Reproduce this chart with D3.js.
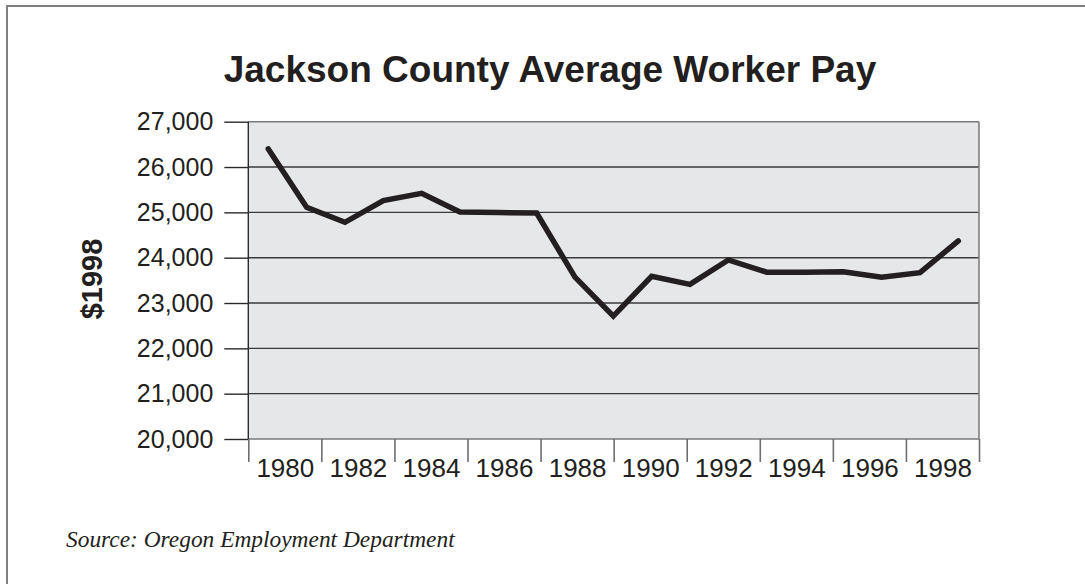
<!DOCTYPE html>
<html>
<head>
<meta charset="utf-8">
<script src="https://cdn.jsdelivr.net/npm/d3@7"></script>
<style>
  html, body { margin: 0; padding: 0; background: #fff; }
  svg { display: block; }
</style>
</head>
<body>
<svg id="chart" width="1085" height="584"></svg>
<script>
// Average annual pay, constant 1998 dollars
const years = [1980, 1981, 1982, 1983, 1984, 1985, 1986, 1987, 1988, 1989,
               1990, 1991, 1992, 1993, 1994, 1995, 1996, 1997, 1998];
const pay = [26400, 25110, 24780, 25260, 25420, 25010, 24995, 24985, 23570, 22710,
             23590, 23410, 23950, 23680, 23680, 23690, 23570, 23670, 24370];

const yTicks = [20000, 21000, 22000, 23000, 24000, 25000, 26000, 27000];
const xLabels = [1980, 1982, 1984, 1986, 1988, 1990, 1992, 1994, 1996, 1998];
const xTickMarks = [1979, 1981, 1983, 1985, 1987, 1989, 1991, 1993, 1995, 1997, 1999];

const title = "Jackson County Average Worker Pay";
const yTitle = "$1998";
const source = "Source: Oregon Employment Department";

const svg = d3.select("#chart");
const sans = "'Liberation Sans', Arial, Helvetica, sans-serif";

const plot = { left: 248.3, right: 979, top: 121.7, bottom: 439 };

// Outer frame
svg.append("rect")
  .attr("x", 7).attr("y", 6)
  .attr("width", 1100).attr("height", 600)
  .attr("fill", "none")
  .attr("stroke", "#808080")
  .attr("stroke-width", 2);

// Scales
const y = d3.scaleLinear().domain([20000, 27000]).range([plot.bottom, plot.top]);
const xAxisScale = d3.scaleLinear().domain([1979, 1999]).range([plot.left, plot.right]);
const xLine = d3.scalePoint().domain(years).range([268.3, 958.3]);

// Plot background
svg.append("rect")
  .attr("x", plot.left).attr("y", plot.top)
  .attr("width", plot.right - plot.left)
  .attr("height", plot.bottom - plot.top)
  .attr("fill", "#e6e7e8");

// Horizontal gridlines
svg.append("g")
  .selectAll("line")
  .data(yTicks)
  .join("line")
  .attr("x1", plot.left).attr("x2", plot.right)
  .attr("y1", d => y(d)).attr("y2", d => y(d))
  .attr("stroke", d => (d === 20000 || d === 27000) ? "#7a7a7a" : "#3a3a3a")
  .attr("stroke-width", 1.4);

// Plot side borders
svg.append("line")
  .attr("x1", plot.left).attr("x2", plot.left)
  .attr("y1", plot.top).attr("y2", plot.bottom)
  .attr("stroke", "#2a2a2a").attr("stroke-width", 1.4);
svg.append("line")
  .attr("x1", plot.right).attr("x2", plot.right)
  .attr("y1", plot.top).attr("y2", plot.bottom)
  .attr("stroke", "#808080").attr("stroke-width", 1.6);

// Y axis
const yAxis = svg.append("g")
  .attr("transform", `translate(${plot.left},0)`)
  .call(d3.axisLeft(y).tickValues(yTicks).tickSize(24).tickPadding(11)
    .tickFormat(d3.format(",")));
yAxis.select(".domain").remove();
yAxis.selectAll(".tick line").attr("stroke", "#2a2a2a").attr("stroke-width", 1.4);
yAxis.selectAll(".tick text")
  .attr("font-family", sans).attr("font-size", 25).attr("fill", "#231f20");

// X axis tick marks (between label pairs)
const xTicks = svg.append("g")
  .attr("transform", `translate(0,${plot.bottom})`)
  .call(d3.axisBottom(xAxisScale).tickValues(xTickMarks).tickSize(23).tickFormat(""));
xTicks.select(".domain").remove();
xTicks.selectAll(".tick line").attr("stroke", "#6e6e6e").attr("stroke-width", 1.6);

// X axis labels
const xLab = svg.append("g")
  .attr("transform", `translate(0,${plot.bottom})`)
  .call(d3.axisBottom(xAxisScale).tickValues(xLabels).tickSize(0).tickPadding(20)
    .tickFormat(d3.format("d")));
xLab.select(".domain").remove();
xLab.selectAll(".tick text")
  .attr("font-family", sans).attr("font-size", 26).attr("fill", "#231f20");

// Pay line
const line = d3.line()
  .x((d, i) => xLine(years[i]))
  .y(d => y(d));
svg.append("path")
  .datum(pay)
  .attr("d", line)
  .attr("fill", "none")
  .attr("stroke", "#231f20")
  .attr("stroke-width", 5.5)
  .attr("stroke-linejoin", "miter")
  .attr("stroke-linecap", "round");

// Title
svg.append("text")
  .attr("x", 550).attr("y", 82)
  .attr("text-anchor", "middle")
  .attr("font-family", sans).attr("font-weight", "bold")
  .attr("font-size", 37).attr("fill", "#231f20")
  .text(title);

// Y axis title
svg.append("text")
  .attr("transform", "translate(102,279) rotate(-90)")
  .attr("text-anchor", "middle")
  .attr("font-family", sans).attr("font-weight", "bold")
  .attr("font-size", 29).attr("fill", "#231f20")
  .text(yTitle);

// Source note
svg.append("text")
  .attr("x", 66).attr("y", 547)
  .attr("font-family", "'Liberation Serif', 'Times New Roman', serif")
  .attr("font-style", "italic")
  .attr("font-size", 23.4).attr("fill", "#231f20")
  .text(source);
</script>
</body>
</html>
